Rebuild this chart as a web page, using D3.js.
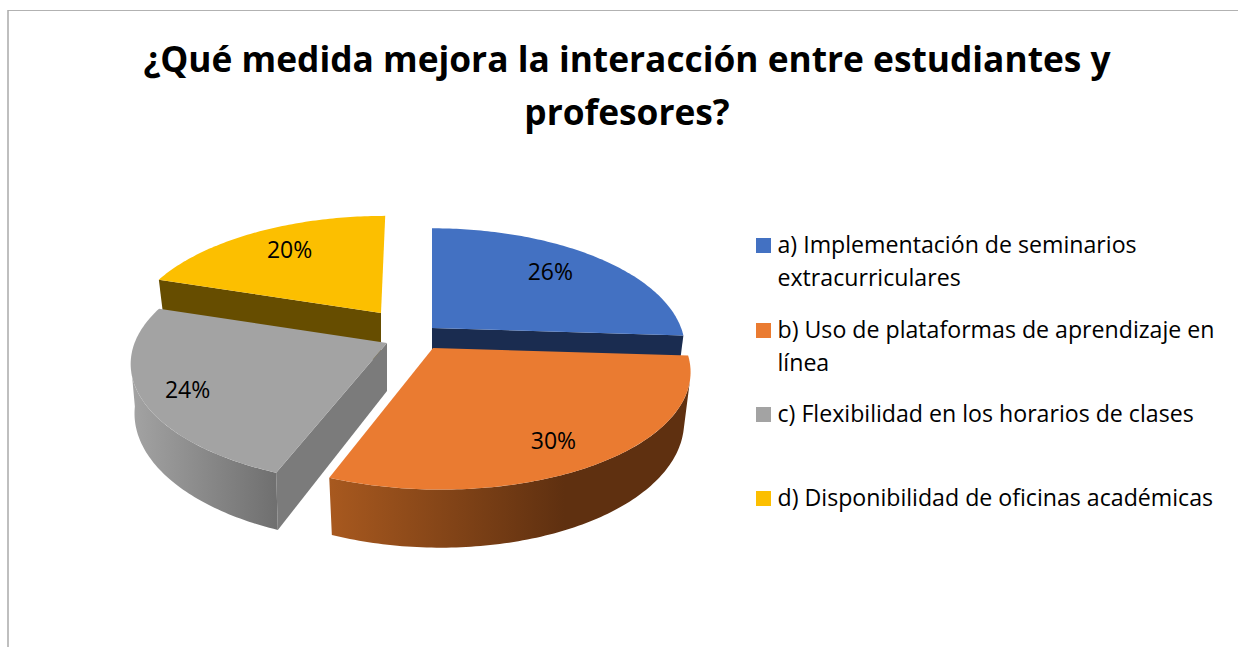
<!DOCTYPE html>
<html><head><meta charset="utf-8">
<script src="https://cdnjs.cloudflare.com/ajax/libs/d3/7.8.5/d3.min.js"></script>
<style>html,body{margin:0;padding:0;background:#fff}svg{display:block}text{font-family:"Open Sans",sans-serif;fill:#000}</style>
</head><body><svg id="c" width="1238" height="647"></svg>
<script>
const titleLines = ["¿Qué medida mejora la interacción entre estudiantes y", "profesores?"];
const categories = [
  ["a) Implementación de seminarios", "extracurriculares"],
  ["b) Uso de plataformas de aprendizaje en", "línea"],
  ["c) Flexibilidad en los horarios de clases"],
  ["d) Disponibilidad de oficinas académicas"]
];
const values = [26, 30, 24, 20];
const topColors = ["#4371c2", "#ea7b31", "#a3a3a3", "#fcbf00"];
const edgeColors = ["#1a2c50", "#5f3010", "#7b7b7b", "#664d00"];
const wallFrom = ["#1a2c50", "#a8591f", "#a3a3a3", "#664d00"];
const wallTo = ["#1a2c50", "#5f3010", "#6f6f6f", "#664d00"];
const apexX = [432, 433, 387, 381];
const apexY = [328, 348, 343, 313];
const radiusScale = [1, 1, 1, 0.97];
const widthScale = [0.977, 0.99, 0.99, 1];
const bottomShrink = [0.975, 0.975, 0.985, 0.975];
const skew = [0, -0.025, 0, 0.02];
const labelRadius = [0.7, 0.8, 0.82, 0.7];
const labelDx = [1, -7, 0, -1];
const labelDy = [-4, 3, 4, -4];
const legendY = [245, 330, 414, 498];
const drawOrder = [3, 0, 2, 1];

const A = 255, B = 117, P = 0.1736, D = 48;
const rad = Math.PI / 180;
const FACE_START = 105 * rad, FACE_END_TOP = 254 * rad, FACE_END_BOTTOM = 263 * rad;

const svg = d3.select("#c");
const defs = svg.append("defs");
const arcs = d3.pie().sort(null).value(d => d)(values);

function project(i, r, a, z) {
  const x = r * Math.sin(a) * radiusScale[i] * widthScale[i], y = r * Math.cos(a) * radiusScale[i];
  const w = 1 + P * y, s = z ? bottomShrink[i] : 1;
  return [apexX[i] + A * s * (x + skew[i] * y) / w, apexY[i] - B * y / w + (z ? D / w : 0)];
}
const rim = (i, a0, a1, z) => {
  const n = Math.max(2, Math.ceil((a1 - a0) * 60));
  return d3.range(n + 1).map(k => project(i, 1, a0 + (a1 - a0) * k / n, z));
};
const line = d3.line();

// border
svg.append("path").attr("d", line([[8, 10.5], [1238, 10.5]])).attr("fill", "none").attr("stroke", "#b2b2b2");
svg.append("path").attr("d", line([[8, 10], [8, 647]])).attr("fill", "none").attr("stroke", "#aaaaaa").attr("stroke-width", 1.5);

// title
svg.selectAll("text.title").data(titleLines).join("text").attr("class", "title")
  .attr("x", 627).attr("y", (d, i) => 72 + i * 53)
  .attr("text-anchor", "middle").attr("font-size", 35.3).attr("font-weight", 700).text(d => d);

// slices, back to front
drawOrder.forEach(i => {
  const d = arcs[i], g = svg.append("g");
  const apexTop = project(i, 0, 0, false), apexBot = project(i, 0, 0, true);
  // straight wall that faces the viewer (blue: closing edge; gray, yellow: opening edge)
  if (i !== 1) {
    const edge = i === 0 ? d.endAngle : d.startAngle;
    g.append("path").attr("d", line([apexTop, project(i, 1, edge, false), project(i, 1, edge, true), apexBot]) + "Z").attr("fill", edgeColors[i]);
  }
  // outer wall
  const a0 = Math.max(d.startAngle, FACE_START);
  const a1t = Math.min(d.endAngle, FACE_END_TOP), a1b = Math.min(d.endAngle, FACE_END_BOTTOM);
  if (a1t > a0) {
    const top = rim(i, a0, a1t, false), bot = rim(i, a0, a1b, true).reverse();
    const xs = top.concat(bot).map(p => p[0]);
    const id = "wall" + i;
    const grad = defs.append("linearGradient").attr("id", id).attr("gradientUnits", "userSpaceOnUse")
      .attr("x1", d3.min(xs)).attr("x2", i === 1 ? d3.min(xs) + 235 : d3.max(xs)).attr("y1", 0).attr("y2", 0);
    grad.append("stop").attr("offset", 0).attr("stop-color", wallFrom[i]);
    grad.append("stop").attr("offset", 1).attr("stop-color", wallTo[i]);
    g.append("path").attr("d", line(top.concat(bot)) + "Z").attr("fill", `url(#${id})`);
  }
  // top face
  g.append("path").attr("d", line([apexTop].concat(rim(i, d.startAngle, d.endAngle, false))) + "Z").attr("fill", topColors[i]);
});

// data labels
const total = d3.sum(values);
arcs.forEach((d, i) => {
  const p = project(i, labelRadius[i], (d.startAngle + d.endAngle) / 2, false);
  svg.append("text").attr("x", p[0] + labelDx[i]).attr("y", p[1] + 8 + labelDy[i]).attr("text-anchor", "middle")
    .attr("font-size", 23).text(Math.round(d.value / total * 100) + "%");
});

// legend
categories.forEach((lines, i) => {
  svg.append("rect").attr("x", 756).attr("y", legendY[i] - 7).attr("width", 15).attr("height", 15).attr("fill", topColors[i]);
  lines.forEach((t, k) => {
    svg.append("text").attr("x", 777.5).attr("y", legendY[i] + 8 + k * 33).attr("font-size", 23.15).text(t);
  });
});
</script></body></html>
